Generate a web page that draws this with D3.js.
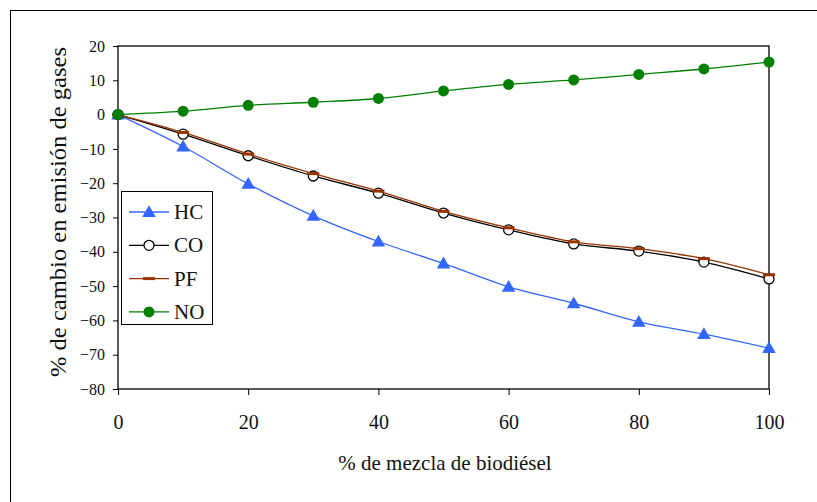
<!DOCTYPE html>
<html>
<head>
<meta charset="utf-8">
<script src="https://cdnjs.cloudflare.com/ajax/libs/d3/7.8.5/d3.min.js"></script>
<style>
body { margin: 0; background: #fff; }
svg text { fill: #111; }
.axis path, .axis line { stroke: #000; }
</style>
</head>
<body>
<svg width="817" height="502"></svg>
<script>
var blends = [0, 10, 20, 30, 40, 50, 60, 70, 80, 90, 100];
var hc = [0, -9.3, -20.2, -29.5, -37.0, -43.4, -50.2, -55.0, -60.4, -64.0, -68.1];
var co = [0, -5.7, -12.0, -17.9, -22.9, -28.7, -33.6, -37.7, -39.8, -43.0, -47.9];
var pf = [0, -5.2, -11.5, -17.2, -22.3, -28.2, -33.0, -37.1, -39.1, -42.0, -46.7];
var no = [0, 1.0, 2.7, 3.6, 4.7, 6.9, 8.8, 10.1, 11.7, 13.3, 15.3];
var xTicks = [0, 20, 40, 60, 80, 100];
var yTicks = [20, 10, 0, -10, -20, -30, -40, -50, -60, -70, -80];

var series = [
  {name: "HC", values: hc, color: "#3366ff", marker: "triangle"},
  {name: "CO", values: co, color: "#000000", marker: "circle"},
  {name: "PF", values: pf, color: "#993300", marker: "dash"},
  {name: "NO", values: no, color: "#008000", marker: "dot"}
];

var serif = "'Liberation Serif', 'DejaVu Serif', serif";
var svg = d3.select("svg");
// outer chart frame (runs off the right/bottom edges)
svg.append("rect")
  .attr("x", 10.5).attr("y", 10.5)
  .attr("width", 900).attr("height", 600)
  .attr("fill", "none").attr("stroke", "#000");

var x = d3.scaleLinear().domain([0, 100]).range([118, 769]);
var y = d3.scaleLinear().domain([-80, 20]).range([389, 46]);

// plot area border
svg.append("rect")
  .attr("x", x(0)).attr("y", y(20))
  .attr("width", x(100) - x(0)).attr("height", y(-80) - y(20))
  .attr("fill", "none").attr("stroke", "#000").attr("stroke-width", 1.3);

svg.append("g")
  .attr("class", "axis yaxis")
  .attr("transform", "translate(" + x(0) + ",0)")
  .call(d3.axisLeft(y).tickValues(yTicks).tickSize(5).tickPadding(8))
  .attr("font-family", serif).attr("font-size", 16)
  .call(function (g) { g.select(".domain").remove(); });

svg.append("g")
  .attr("class", "axis xaxis")
  .attr("transform", "translate(0," + y(-80) + ")")
  .call(d3.axisBottom(x).tickValues(xTicks).tickSize(6).tickPadding(20))
  .attr("font-family", serif).attr("font-size", 20)
  .call(function (g) { g.select(".domain").remove(); });

svg.append("text")
  .attr("x", 445).attr("y", 470)
  .attr("text-anchor", "middle")
  .attr("font-family", serif)
  .style("font-size", "21px")
  .text("% de mezcla de biodiésel");

svg.append("text")
  .attr("transform", "translate(66,212) rotate(-90)")
  .attr("text-anchor", "middle")
  .attr("font-family", serif)
  .attr("textLength", 330)
  .attr("lengthAdjust", "spacingAndGlyphs")
  .style("font-size", "23px")
  .text("% de cambio en emisión de gases");

var line = d3.line()
  .x(function (d, i) { return x(blends[i]); })
  .y(function (d) { return y(d); })
  .curve(d3.curveCatmullRom.alpha(0.5));

function drawMarker(g, type, color, cx, cy) {
  if (type === "triangle") {
    g.append("path")
      .attr("d", d3.symbol().type(d3.symbolTriangle).size(80)())
      .attr("transform", "translate(" + cx + "," + (cy + 1) + ")")
      .attr("fill", color);
  } else if (type === "circle") {
    g.append("circle").attr("cx", cx).attr("cy", cy).attr("r", 5)
      .attr("fill", "#fff").attr("stroke", color).attr("stroke-width", 1.3);
  } else if (type === "dash") {
    g.append("rect").attr("x", cx - 6).attr("y", cy - 1.5)
      .attr("width", 12).attr("height", 3).attr("fill", color);
  } else {
    g.append("circle").attr("cx", cx).attr("cy", cy).attr("r", 5.5)
      .attr("fill", color);
  }
}

series.forEach(function (s) {
  var g = svg.append("g");
  g.append("path")
    .attr("d", line(s.values))
    .attr("fill", "none")
    .attr("stroke", s.color)
    .attr("stroke-width", 1.3);
  s.values.forEach(function (v, i) {
    drawMarker(g, s.marker, s.color, x(blends[i]), y(v));
  });
});

// legend
var legend = svg.append("g");
legend.append("rect")
  .attr("x", 121.5).attr("y", 191.5)
  .attr("width", 91).attr("height", 133)
  .attr("fill", "#fff").attr("stroke", "#000");
series.forEach(function (s, i) {
  var ly = 212 + i * 33.3;
  legend.append("line")
    .attr("x1", 129).attr("x2", 169)
    .attr("y1", ly).attr("y2", ly)
    .attr("stroke", s.color).attr("stroke-width", 1.3);
  drawMarker(legend, s.marker, s.color, 149, ly);
  legend.append("text")
    .attr("x", 174).attr("y", ly + 7)
    .attr("font-family", serif)
    .style("font-size", "21px")
    .text(s.name);
});
</script>
</body>
</html>
